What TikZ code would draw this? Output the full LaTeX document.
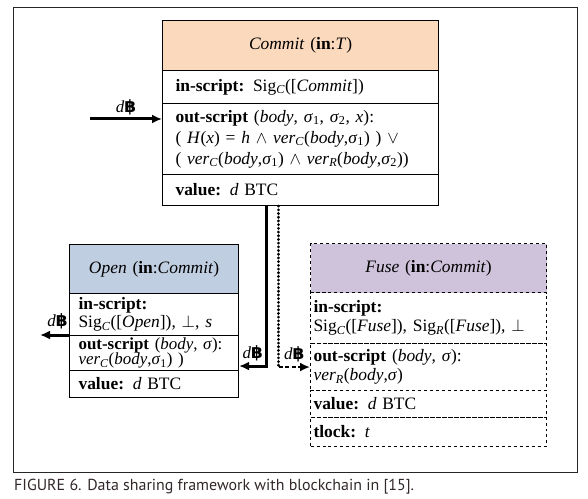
\documentclass[tikz,border=0pt]{standalone}
\usepackage{fontspec}
\setmainfont{Liberation Serif}
\newfontfamily\bahtfont{DejaVu Sans}
\newfontfamily\captfont{PT Sans}
\usetikzlibrary{arrows.meta,calc}
\definecolor{commitfill}{RGB}{251,217,188}
\definecolor{openfill}{RGB}{192,206,225}
\definecolor{fusefill}{RGB}{206,195,219}
\definecolor{captcol}{RGB}{50,40,40}
\newcommand{\btc}{\textit{d}{\bahtfont\bfseries ฿}}
\newcommand{\sbi}[1]{\textsubscript{\textit{#1}}}
\begin{document}
\begin{tikzpicture}[x=1bp,y=-1bp,
  rowbox/.style={draw, line width=1.1bp, anchor=north west, align=left,
    inner ysep=0pt, font=\fontsize{17.5}{19.5}\selectfont},
  headbox/.style={rowbox, align=center},
  commitrow/.style={rowbox, minimum width=276bp, text width=250bp, inner xsep=13bp},
  openrow/.style={rowbox, minimum width=169bp, text width=151bp, inner xsep=9bp},
  fuserow/.style={rowbox, dashed, minimum width=236bp, text width=230bp, inner xsep=3bp},
  flow/.style={line width=3bp, -{Latex[length=10bp,width=9bp]}},
  lbl/.style={font=\fontsize{17}{20}\selectfont, inner sep=1bp}
]
\useasboundingbox (0,0) rectangle (588,499);
\node[draw=black!85, line width=1.4bp, minimum width=564bp, minimum height=465bp,
  anchor=north west, inner sep=0pt] (frame) at (13,7) {};

% Commit
\node[commitrow, headbox, fill=commitfill, minimum height=50bp] (cH) at (162,20) {\textit{Commit} (\textbf{in}:\textit{T})};
\node[commitrow, minimum height=33bp] (cIn) at (162,70) {\textbf{in-script:} Sig\sbi{C}([\textit{Commit}])};
\node[commitrow, minimum height=71bp, font=\fontsize{17.5}{21}\selectfont] (cOut) at (162,103) {\textbf{out-script} (\textit{body}, \textit{σ}\textsubscript{1}, \textit{σ}\textsubscript{2}, \textit{x}):\\
( \textit{H}(\textit{x}) = \textit{h} $\wedge$ \textit{ver}\sbi{C}(\textit{body},\textit{σ}\textsubscript{1}) ) $\vee$\\
( \textit{ver}\sbi{C}(\textit{body},\textit{σ}\textsubscript{1}) $\wedge$ \textit{ver}\sbi{R}(\textit{body},\textit{σ}\textsubscript{2}))};
\node[commitrow, minimum height=31bp] (cVal) at (162,174) {\textbf{value:} \textit{d} BTC};

% Open
\node[openrow, headbox, fill=openfill, minimum height=49bp] (oH) at (69,244) {\textit{Open} (\textbf{in}:\textit{Commit})};
\node[openrow, minimum height=42bp, font=\fontsize{17.5}{18}\selectfont] (oIn) at (69,293) {\textbf{in-script:}\\ Sig\sbi{C}([\textit{Open}]), $\bot$, \textit{s}};
\node[openrow, minimum height=35bp, font=\fontsize{17}{15.5}\selectfont] (oOut) at (69,335) {\textbf{out-script} (\textit{body}, \textit{σ}):\\ \textit{ver}\sbi{C}(\textit{body},\textit{σ}\textsubscript{1}) )};
\node[openrow, minimum height=27bp] (oVal) at (69,370) {\textbf{value:} \textit{d} BTC};

% Fuse
\node[fuserow, headbox, fill=fusefill, minimum height=49bp] (fH) at (310,243) {\textit{Fuse} (\textbf{in}:\textit{Commit})};
\node[fuserow, minimum height=51bp] (fIn) at (310,292) {\textbf{in-script:}\\ Sig\sbi{C}([\textit{Fuse}]), Sig\sbi{R}([\textit{Fuse}]), $\bot$};
\node[fuserow, minimum height=47bp] (fOut) at (310,343) {\textbf{out-script} (\textit{body}, \textit{σ}):\\ \textit{ver}\sbi{R}(\textit{body},\textit{σ})};
\node[fuserow, minimum height=27bp] (fVal) at (310,390) {\textbf{value:} \textit{d} BTC};
\node[fuserow, minimum height=29bp] (fT) at (310,417) {\textbf{tlock:} \textit{t}};

% input arrow
\coordinate (inS) at (90,119);
\draw[flow] (inS) -- node[lbl, above=2bp] (inL) {\btc} (inS -| cOut.west);

% open output arrow
\coordinate (outE) at (40,335);
\draw[flow] (oOut.north west) -- node[lbl, above=4bp, pos=0.4] (outL) {\btc} (outE);

% commit -> open (solid)
\draw[flow] ([xshift=-34bp]cVal.south) |- node[lbl, above=3bp, pos=0.75] (sL) {\btc} ([yshift=-13bp]oOut.east);

% commit -> fuse (dotted then dashed)
\coordinate (corner) at ([xshift=-22bp]cVal.south |- fOut.west);
\draw[line width=3bp, line cap=round, dash pattern=on 0.1bp off 3.6bp] ([xshift=-22bp]cVal.south) -- (corner);
\draw[line width=2.4bp, dash pattern=on 4bp off 2.5bp, -{Latex[length=10bp,width=9bp]}] (corner) -- node[lbl, above=3bp] (dL) {\btc} (fOut.west);

% caption
\node[anchor=west, inner sep=0pt, text=captcol, font=\captfont\fontsize{16}{18}\selectfont] (cap) at (14,487) {FIGURE 6. Data sharing framework with blockchain in [15].};
\end{tikzpicture}
\end{document}
